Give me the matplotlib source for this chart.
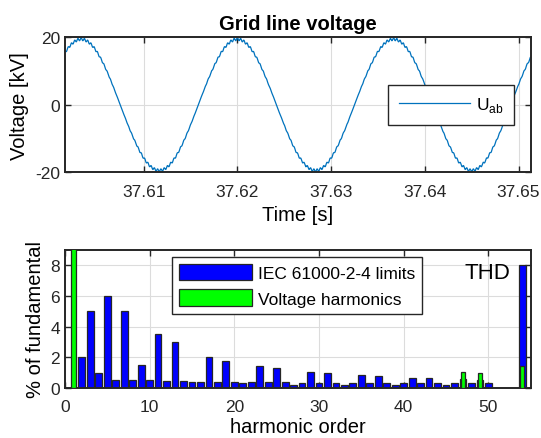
import numpy as np
import matplotlib
matplotlib.use('Agg')
import matplotlib.pyplot as plt

plt.rcParams['font.family'] = ['Liberation Sans', 'DejaVu Sans']
plt.rcParams['font.size'] = 12.5
plt.rcParams['axes.unicode_minus'] = False

# grid voltage: fundamental and timing
u_peak = 19.4          # kV
f_grid = 60.0          # Hz
t_peak = 37.6200       # s, time of a positive peak
t_start, t_end = 37.6016, 37.6513

# harmonic spectrum (% of fundamental), orders 1..50
orders = list(range(1, 51))
iec_limits = [0, 2, 5, 1, 6, 0.5, 5, 0.5, 1.5, 0.5,
              3.5, 0.46, 3, 0.43, 0.4, 0.41, 2, 0.39, 1.76, 0.38,
              0.3, 0.36, 1.41, 0.35, 1.27, 0.35, 0.2, 0.34, 1.06, 0.33,
              0.97, 0.33, 0.2, 0.32, 0.83, 0.32, 0.77, 0.32, 0.2, 0.31,
              0.67, 0.31, 0.63, 0.31, 0.2, 0.31, 0.55, 0.31, 0.52, 0.3]
volt_harm = [100, 0, 0, 0, 0, 0, 0, 0, 0, 0,
             0, 0, 0, 0, 0, 0, 0, 0, 0, 0,
             0, 0, 0, 0, 0, 0, 0, 0, 0, 0,
             0, 0, 0, 0, 0, 0, 0, 0, 0, 0,
             0, 0, 0, 0, 0, 0, 1.05, 0, 1.0, 0]
thd_pos = 54
iec_thd = 8
volt_thd = 1.45

# rebuild the waveform from the spectrum
t = np.linspace(t_start, t_end, 3000)
u = np.zeros_like(t)
for h, a in zip(orders, volt_harm):
    u += u_peak * a / 100 * np.cos(2 * np.pi * h * f_grid * (t - t_peak))

fig = plt.figure(figsize=(5.41, 4.39), dpi=100)
ax1 = fig.add_axes([0.120, 0.605, 0.861, 0.308])
ax2 = fig.add_axes([0.120, 0.1143, 0.861, 0.3139])

for ax in (ax1, ax2):
    ax.grid(True, color='#dcdcdc', linewidth=0.8)
    ax.set_axisbelow(True)
    ax.tick_params(direction='in', top=True, right=True, length=4,
                   width=1.0, colors='#262626', labelcolor='#262626',
                   labelsize=12.5)
    ax.tick_params(axis='x', pad=8)
    ax.tick_params(axis='y', pad=3.5)
    for s in ax.spines.values():
        s.set_linewidth(1.4)
        s.set_color('#262626')

# top: grid line voltage
ax1.plot(t, u, color='#0072BD', linewidth=0.9, label=r'U$_{\mathregular{ab}}$')
ax1.set_xlim(t_start, t_end)
ax1.set_ylim(-20, 20)
ax1.set_yticks([-20, 0, 20])
ax1.set_xticks([37.61, 37.62, 37.63, 37.64, 37.65])
ax1.set_xticklabels(['37.61', '37.62', '37.63', '37.64', '37.65'])
ax1.set_xlabel('Time [s]', fontsize=14.5, labelpad=5)
ax1.set_ylabel('Voltage [kV]', fontsize=14.5, labelpad=4.5)
ax1.set_title('Grid line voltage', fontweight='bold', fontsize=14.5, pad=6)
leg1 = ax1.legend(loc='center right', bbox_to_anchor=(0.964, 0.5),
                  borderaxespad=0, fancybox=False, framealpha=1,
                  edgecolor='#262626', handlelength=4.1, handletextpad=0.35,
                  borderpad=0.6, fontsize=12.5)
leg1.get_frame().set_linewidth(1.0)

# bottom: harmonic spectrum
ax2.bar(orders + [thd_pos], iec_limits + [iec_thd], width=0.8,
        color='#0000ff', edgecolor='#262626', linewidth=0.9,
        label='IEC 61000-2-4 limits', zorder=2)
ax2.bar(orders + [thd_pos], volt_harm + [volt_thd], width=0.5,
        color='#00ff00', edgecolor='#262626', linewidth=0.9,
        label='Voltage harmonics', zorder=3)
ax2.text(52.6, 7.5, 'THD', fontsize=16, ha='right', va='center')
ax2.set_xlim(0, 55)
ax2.set_ylim(0, 9)
ax2.set_xticks([0, 10, 20, 30, 40, 50])
ax2.set_yticks([0, 2, 4, 6, 8])
ax2.set_xlabel('harmonic order', fontsize=14.5, labelpad=2)
ax2.set_ylabel('% of fundamental', fontsize=14.5, labelpad=4)
leg2 = ax2.legend(loc='upper left', bbox_to_anchor=(0.23, 0.952),
                  borderaxespad=0, fancybox=False, framealpha=1,
                  edgecolor='#262626', handlelength=4.2, handleheight=1.1,
                  handletextpad=0.35, fontsize=12.5)
leg2.get_frame().set_linewidth(1.0)

fig.savefig('out.png', dpi=100)
